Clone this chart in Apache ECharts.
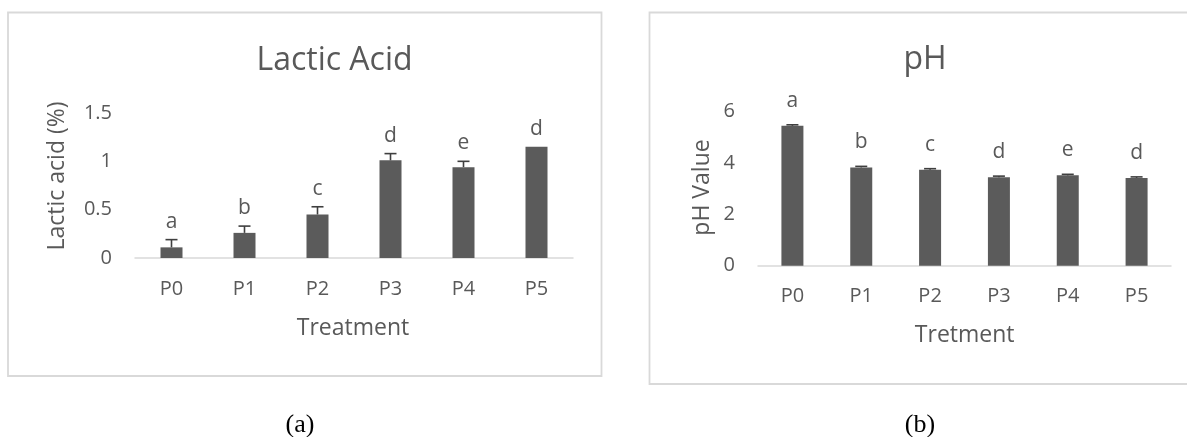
<!DOCTYPE html>
<html><head><meta charset="utf-8">
<script src="https://cdn.jsdelivr.net/npm/echarts@6/dist/echarts.min.js"></script>
<style>html,body{margin:0;padding:0;background:#fff}#c{width:1187px;height:437px}</style>
</head><body><div id="c"></div>
<script>
const categories = ['P0','P1','P2','P3','P4','P5'];
const lacticValues = [0.11, 0.26, 0.45, 1.01, 0.94, 1.15];
const lacticErrors = [0.08, 0.07, 0.08, 0.07, 0.06, 0];
const lacticLetters = ['a','b','c','d','e','d'];
const phValues = [5.45, 3.83, 3.74, 3.45, 3.52, 3.42];
const phErrors = [0.04, 0.04, 0.04, 0.04, 0.04, 0.04];
const phLetters = ['a','b','c','d','e','d'];
const lacticAxis = {min: 0, max: 1.5, interval: 0.5};
const phAxis = {min: 0, max: 6, interval: 2};

const FONT = 'Open Sans';
const TXT = '#595959';
const BAR = '#5b5b5b';

function errSeries(gi, vals, errs) {
  return {
    type: 'custom', xAxisIndex: gi, yAxisIndex: gi, silent: true, z: 5,
    data: vals.map((v, i) => [i, v, errs[i]]),
    renderItem: function (params, api) {
      const i = api.value(0), v = api.value(1), e = api.value(2);
      if (!e) return null;
      const b = api.coord([i, v]);
      const t = api.coord([i, v + e]);
      const st = {stroke: '#3f3f3f', lineWidth: 1.6};
      return {type: 'group', children: [
        {type: 'line', shape: {x1: b[0], y1: b[1], x2: t[0], y2: t[1]}, style: st},
        {type: 'line', shape: {x1: t[0] - 6, y1: t[1], x2: t[0] + 6, y2: t[1]}, style: st}
      ]};
    }
  };
}
function letterSeries(gi, vals, errs, letters, off) {
  return {
    type: 'custom', xAxisIndex: gi, yAxisIndex: gi, silent: true, z: 6,
    data: vals.map((v, i) => [i, v + errs[i]]),
    renderItem: function (params, api) {
      const p = api.coord([api.value(0), api.value(1)]);
      return {type: 'text', x: p[0], y: p[1] - off,
        style: {text: letters[params.dataIndex], align: 'center', verticalAlign: 'middle',
          fontSize: 21, fontFamily: FONT, fill: TXT}};
    }
  };
}
function xAx(gi) {
  return {type: 'category', gridIndex: gi, data: categories,
    axisLine: {lineStyle: {color: '#d9d9d9', width: 1.5}}, axisTick: {show: false},
    axisLabel: {color: TXT, fontSize: 20, fontFamily: FONT, margin: 21}};
}
function yAx(gi, a) {
  return {type: 'value', gridIndex: gi, min: a.min, max: a.max, interval: a.interval,
    splitLine: {show: false}, axisLine: {show: false}, axisTick: {show: false},
    axisLabel: {color: TXT, fontSize: 20, fontFamily: FONT, margin: 23}};
}
function txt(x, y, s, size, opts) {
  return Object.assign({type: 'text', x: x, y: y, silent: true,
    style: {text: s, align: 'center', verticalAlign: 'middle', fontSize: size, fontFamily: FONT, fill: TXT}}, opts || {});
}

const chart = echarts.init(document.getElementById('c'));
chart.setOption({
  animation: false,
  backgroundColor: '#fff',
  grid: [
    {left: 135, top: 113, width: 438, height: 145},
    {left: 758, top: 111.7, width: 413, height: 154}
  ],
  xAxis: [xAx(0), xAx(1)],
  yAxis: [yAx(0, lacticAxis), yAx(1, phAxis)],
  series: [
    {type: 'bar', xAxisIndex: 0, yAxisIndex: 0, data: lacticValues, barWidth: 22, itemStyle: {color: BAR}},
    errSeries(0, lacticValues, lacticErrors),
    letterSeries(0, lacticValues, lacticErrors, lacticLetters, 18),
    {type: 'bar', xAxisIndex: 1, yAxisIndex: 1, data: phValues, barWidth: 22, itemStyle: {color: BAR}},
    errSeries(1, phValues, phErrors),
    letterSeries(1, phValues, phErrors, phLetters, 24)
  ],
  graphic: [
    {type: 'rect', silent: true, shape: {x: 8, y: 12.5, width: 593.5, height: 363.5}, style: {fill: 'none', stroke: '#d9d9d9', lineWidth: 1.8}},
    {type: 'rect', silent: true, shape: {x: 649.5, y: 12.5, width: 560, height: 371.5}, style: {fill: 'none', stroke: '#d9d9d9', lineWidth: 1.8}},
    txt(334.5, 61, 'Lactic Acid', 32),
    txt(925, 60, 'pH', 32),
    txt(57.4, 176, 'Lactic acid (%)', 23, {rotation: Math.PI / 2}),
    txt(702, 187.5, 'pH Value', 23, {rotation: Math.PI / 2}),
    txt(353, 328, 'Treatment', 23),
    txt(964.7, 335, 'Tretment', 23),
    {type: 'text', x: 300, y: 425, silent: true, style: {text: '(a)', align: 'center', verticalAlign: 'middle', fontSize: 26, fontFamily: 'Liberation Serif', fill: '#000'}},
    {type: 'text', x: 920, y: 425, silent: true, style: {text: '(b)', align: 'center', verticalAlign: 'middle', fontSize: 26, fontFamily: 'Liberation Serif', fill: '#000'}}
  ]
});
</script></body></html>
